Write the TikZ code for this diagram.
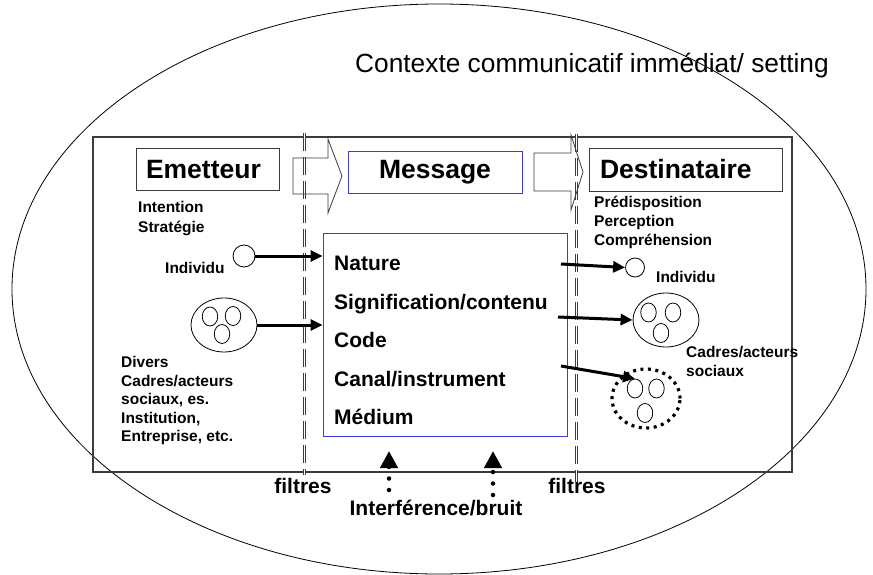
\documentclass[tikz,border=0pt]{standalone}
\usepackage{fontspec}
\setmainfont{Liberation Sans}
\usetikzlibrary{arrows.meta,shapes.geometric,calc}
\definecolor{msgblue}{RGB}{60,60,215}
\definecolor{darkline}{RGB}{60,60,60}
\begin{document}
\begin{tikzpicture}[x=1pt,y=-1pt,
  lbl/.style={font=\bfseries\fontsize{15.5}{18}\selectfont, inner sep=0pt, anchor=base west},
  itemtxt/.style={font=\bfseries\fontsize{21}{24}\selectfont, inner sep=0pt, anchor=base west},
  bottomtxt/.style={font=\bfseries\fontsize{21}{24}\selectfont, inner sep=0pt},
  headbox/.style={draw=darkline, line width=0.9pt, font=\bfseries\fontsize{26.5}{29}\selectfont, inner ysep=0pt, align=left},
  conn/.style={line width=3pt, -{Triangle[length=12pt,width=11pt]}},
  noise/.style={line width=4.5pt, line cap=round, dash pattern=on 0pt off 11.5pt, -{Triangle[length=17pt,width=17pt]}},
  filterline/.style={draw=darkline, line width=0.8pt, double=white, double distance=1.9pt, dash pattern=on 18pt off 6pt},
  hollow/.style={draw=darkline, line width=0.8pt},
  person/.style={ellipse, draw, line width=0.8pt, inner sep=0pt},
  small/.style={person, minimum width=15.5pt, minimum height=19pt},
  group/.style={person, minimum width=66pt, minimum height=54pt},
]
\useasboundingbox (0,0) rectangle (873,575);

% context ellipse
\node[ellipse, draw, line width=0.8pt, inner sep=0pt, minimum width=854pt, minimum height=570pt] (ctx) at (439,289) {};
\node[font=\fontsize{26.3}{30}\selectfont, inner sep=0pt, anchor=base west] (ctxlbl) at (355,72.5) {Contexte communicatif immédiat/ setting};

% frame
\node[draw=darkline, line width=1.2pt, minimum width=699pt, minimum height=335pt, inner sep=0pt] (frame) at (442.5,304.5) {};

% filter lines
\coordinate (fLt) at (304.5,133);
\coordinate (fLb) at (304.5,475);
\coordinate (fRt) at (576.5,134);
\coordinate (fRb) at (576.5,482);
\draw[filterline] (fLt) -- (fLb);
\draw[filterline] (fRt) -- (fRb);

% head boxes
\node[headbox, minimum width=143pt, minimum height=42pt, inner xsep=10pt, text width=123pt] (emet) at (207.5,169.5) {Emetteur};
\node[headbox, draw=msgblue, minimum width=174pt, minimum height=42pt, align=center] (mess) at (435,172) {Message};
\node[headbox, minimum width=193pt, minimum height=43pt, inner xsep=11pt, text width=171pt] (dest) at (685.5,169.5) {Destinataire};

% hollow arrows
\draw[hollow] (293,158) -- (328,158) -- (328,139) -- (342,176) -- (328,213) -- (328,194) -- (293,194) -- cycle;
\draw[hollow] (534,153) -- (571,153) -- (571,135) -- (583,172) -- (571,210) -- (571,191) -- (534,191) -- cycle;

% message content box
\node[draw=msgblue, line width=0.9pt, minimum width=244pt, minimum height=203pt, inner sep=0pt] (msgbox) at (445,334.5) {};
\node[itemtxt] (nat) at (334,270.5) {Nature};
\node[itemtxt] (sig) at (334,309) {Signification/contenu};
\node[itemtxt] (cod) at (334,347.5) {Code};
\node[itemtxt] (can) at (334,386) {Canal/instrument};
\node[itemtxt] (med) at (334,424.5) {Médium};

% emitter side
\node[lbl] (intent) at (138,212.5) {Intention};
\node[lbl] (strat) at (138,232) {Stratégie};
\node[person, minimum size=22pt] (indL) at (244,256) {};
\node[lbl] (indLlbl) at (165,273.5) {Individu};
\node[group] (grpL) at (224,325) {};
\node[small] (gL1) at (210,316.5) {};
\node[small] (gL2) at (233,316) {};
\node[small] (gL3) at (222,334) {};
\node[lbl] (div1) at (121,367.5) {Divers};
\node[lbl] (div2) at (121,386) {Cadres/acteurs};
\node[lbl] (div3) at (121,404.5) {sociaux, es.};
\node[lbl] (div4) at (121,423) {Institution,};
\node[lbl] (div5) at (121,441.5) {Entreprise, etc.};

\draw[conn] (indL.east) -- (indL.east -| msgbox.west);
\draw[conn] (grpL.east) -- (grpL.east -| msgbox.west);

% receiver side
\node[lbl] (pred) at (594,207.5) {Prédisposition};
\node[lbl] (perc) at (594,226.5) {Perception};
\node[lbl] (comp) at (594,245.5) {Compréhension};
\node[person, minimum size=19pt] (indR) at (635,267.5) {};
\node[lbl] (indRlbl) at (656,282.5) {Individu};
\node[group] (grpR) at (666,320) {};
\node[small] (gR1) at (648.5,312.5) {};
\node[small] (gR2) at (673,312.5) {};
\node[small] (gR3) at (661,333) {};
\node[lbl] (cad1) at (686,357.5) {Cadres/acteurs};
\node[lbl] (cad2) at (686,376.5) {sociaux};
\node[ellipse, draw, inner sep=0pt, line width=3.2pt, dash pattern=on 3pt off 4.5pt, minimum width=68pt, minimum height=59pt] (grpD) at (646,398.5) {};
\node[small] (gD1) at (635,388.5) {};
\node[small] (gD2) at (656.5,388.5) {};
\node[small] (gD3) at (645,413) {};

\coordinate (r1) at (561,264);
\coordinate (r2) at (558,317);
\coordinate (r3) at (561,366);
\draw[conn] (r1) -- (indR.west);
\draw[conn] (r2) -- (grpR.west);
\draw[conn] (r3) -- (gD1.north);

% bottom
\node[bottomtxt] (filtL) at (303,486) {filtres};
\node[bottomtxt] (filtR) at (577,486) {filtres};
\node[bottomtxt, anchor=base] (bruit) at (436,515.5) {Interférence/bruit};
\coordinate (nb1) at (389,490);
\coordinate (nt1) at (389,451);
\coordinate (nb2) at (493,495);
\coordinate (nt2) at (493,451);
\draw[noise] (nb1) -- (nt1);
\draw[noise] (nb2) -- (nt2);
\end{tikzpicture}
\end{document}
